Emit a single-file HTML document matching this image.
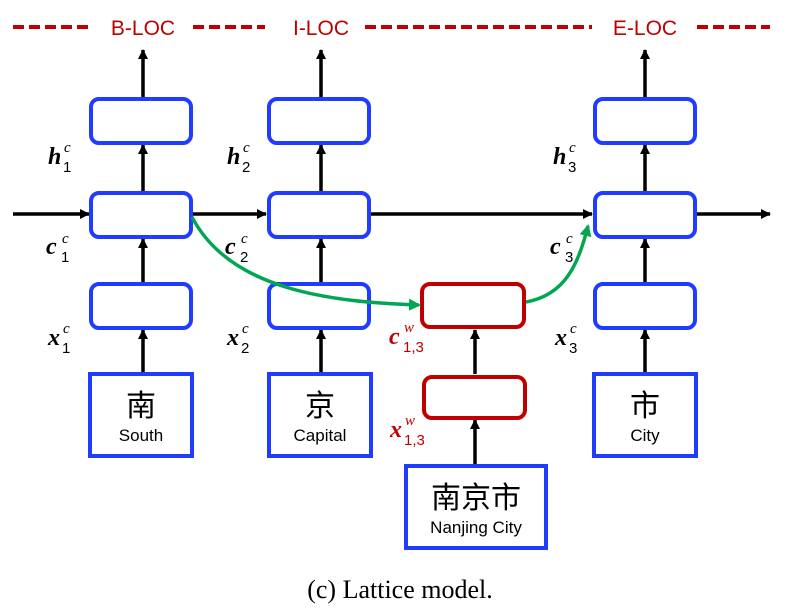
<!DOCTYPE html>
<html><head><meta charset="utf-8"><style>
html,body{margin:0;padding:0;background:#fff;}
svg{display:block;}
.lab{font-family:"Liberation Sans",sans-serif;font-size:21px;fill:#c00000;}
.m{font-family:"Liberation Serif",serif;font-style:italic;font-weight:bold;font-size:24px;}
.s{font-family:"Liberation Serif",serif;font-style:italic;font-size:15px;}
.sb{font-family:"Liberation Sans",sans-serif;font-size:15px;}
.cjk{font-family:"Liberation Sans","Noto Sans CJK SC",sans-serif;font-size:30px;}
.en{font-family:"Liberation Sans",sans-serif;font-size:17px;}
</style></head><body>
<svg width="806" height="616" viewBox="0 0 806 616" xmlns="http://www.w3.org/2000/svg">
<defs>
<marker id="a" markerWidth="10" markerHeight="10" refX="9" refY="5" orient="auto" markerUnits="userSpaceOnUse" viewBox="0 0 10 10"><path d="M0,0 L10,5 L0,10 z" fill="#000"/></marker>
<marker id="g" markerWidth="12" markerHeight="12" refX="10" refY="6" orient="auto" markerUnits="userSpaceOnUse" viewBox="0 0 12 12"><path d="M0,0 L12,6 L0,12 z" fill="#00a651"/></marker>
</defs>
<!-- dashed red lines -->
<g stroke="#c00000" stroke-width="4" stroke-dasharray="11,5">
<line x1="13" y1="27" x2="90" y2="27"/>
<line x1="193" y1="27" x2="265" y2="27"/>
<line x1="365" y1="27" x2="592" y2="27"/>
<line x1="697" y1="27" x2="770" y2="27"/>
</g>
<text class="lab" x="143" y="35" text-anchor="middle">B-LOC</text>
<text class="lab" x="321" y="35" text-anchor="middle">I-LOC</text>
<text class="lab" x="645" y="35" text-anchor="middle">E-LOC</text>
<!-- black arrows -->
<g stroke="#000" stroke-width="3.5" fill="none" marker-end="url(#a)">
<line x1="143" y1="98" x2="143" y2="50"/>
<line x1="321" y1="98" x2="321" y2="50"/>
<line x1="645" y1="98" x2="645" y2="50"/>
<line x1="143" y1="191" x2="143" y2="145"/>
<line x1="321" y1="191" x2="321" y2="145"/>
<line x1="645" y1="191" x2="645" y2="145"/>
<line x1="143" y1="282" x2="143" y2="239"/>
<line x1="321" y1="282" x2="321" y2="239"/>
<line x1="645" y1="282" x2="645" y2="239"/>
<line x1="143" y1="372" x2="143" y2="330"/>
<line x1="321" y1="372" x2="321" y2="330"/>
<line x1="645" y1="372" x2="645" y2="330"/>
<line x1="475" y1="374" x2="475" y2="330"/>
<line x1="475" y1="465" x2="475" y2="420"/>
<line x1="13" y1="214" x2="89" y2="214"/>
<line x1="192" y1="214" x2="266" y2="214"/>
<line x1="369" y1="214" x2="592" y2="214"/>
<line x1="696" y1="214" x2="770" y2="214"/>
</g>
<!-- blue rounded boxes -->
<g fill="#fff" stroke="#1f3cff" stroke-width="4">
<rect x="91" y="99" width="100" height="44" rx="8"/>
<rect x="269" y="99" width="100" height="44" rx="8"/>
<rect x="595" y="99" width="100" height="44" rx="8"/>
<rect x="91" y="193" width="100" height="44" rx="8"/>
<rect x="269" y="193" width="100" height="44" rx="8"/>
<rect x="595" y="193" width="100" height="44" rx="8"/>
<rect x="91" y="284" width="100" height="44" rx="8"/>
<rect x="269" y="284" width="100" height="44" rx="8"/>
<rect x="595" y="284" width="100" height="44" rx="8"/>
</g>
<g fill="#fff" stroke="#1f3cff" stroke-width="4">
<rect x="90" y="374" width="102" height="82"/>
<rect x="269" y="374" width="102" height="82"/>
<rect x="594" y="374" width="102" height="82"/>
<rect x="406" y="466" width="140" height="82"/>
</g>
<!-- red boxes -->
<g fill="#fff" stroke="#c00000" stroke-width="4">
<rect x="422" y="284" width="102" height="43" rx="8"/>
<rect x="424" y="377" width="101" height="41" rx="8"/>
</g>
<!-- green curves -->
<g stroke="#00a651" stroke-width="3.5" fill="none" marker-end="url(#g)">
<path d="M192,217 C230,290 330,302 419,305"/>
<path d="M526,302 C565,295 578,265 588,226"/>
</g>
<!-- math labels -->
<g fill="#000">
<text class="m" x="48" y="164">h</text><text class="s" x="64" y="152">c</text><text class="sb" x="63" y="172">1</text>
<text class="m" x="227" y="164">h</text><text class="s" x="243" y="152">c</text><text class="sb" x="242" y="172">2</text>
<text class="m" x="553" y="164">h</text><text class="s" x="569" y="152">c</text><text class="sb" x="568" y="172">3</text>
<text class="m" x="46" y="254">c</text><text class="s" x="62" y="243">c</text><text class="sb" x="61" y="262">1</text>
<text class="m" x="225" y="254">c</text><text class="s" x="241" y="243">c</text><text class="sb" x="240" y="262">2</text>
<text class="m" x="550" y="254">c</text><text class="s" x="566" y="243">c</text><text class="sb" x="565" y="262">3</text>
<text class="m" x="48" y="345">x</text><text class="s" x="63" y="333">c</text><text class="sb" x="62" y="353">1</text>
<text class="m" x="227" y="345">x</text><text class="s" x="242" y="333">c</text><text class="sb" x="241" y="353">2</text>
<text class="m" x="555" y="345">x</text><text class="s" x="570" y="333">c</text><text class="sb" x="569" y="353">3</text>
</g>
<g fill="#c00000">
<text class="m" x="389" y="344">c</text><text class="s" x="404" y="332">w</text><text class="sb" x="403" y="352">1,3</text>
<text class="m" x="390" y="437">x</text><text class="s" x="405" y="425">w</text><text class="sb" x="404" y="445">1,3</text>
</g>
<!-- input text -->
<g fill="#000" text-anchor="middle">
<text class="cjk" x="141" y="416">南</text><text class="en" x="141" y="441">South</text>
<text class="cjk" x="320" y="416">京</text><text class="en" x="320" y="441">Capital</text>
<text class="cjk" x="645" y="416">市</text><text class="en" x="645" y="441">City</text>
<text class="cjk" x="476" y="508">南京市</text><text class="en" x="476" y="533">Nanjing City</text>
</g>
<text x="400" y="598" text-anchor="middle" font-family="Liberation Serif,serif" font-size="26" fill="#000">(c) Lattice model.</text>
</svg>
</body></html>
